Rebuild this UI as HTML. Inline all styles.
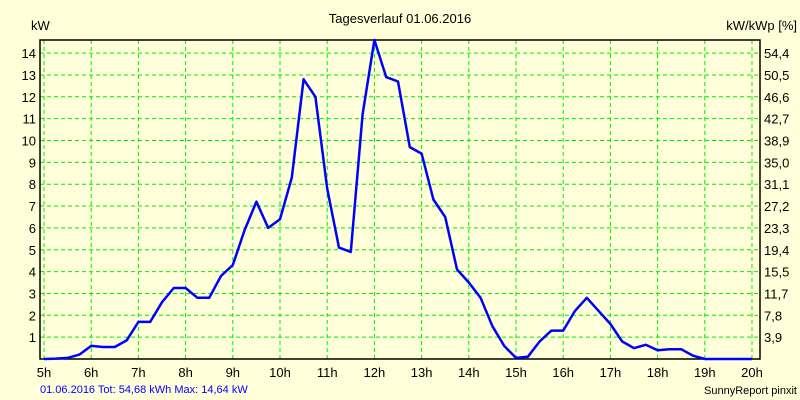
<!DOCTYPE html>
<html><head><meta charset="utf-8"><style>
body{margin:0;background:#ffffd9;}
svg{display:block;font-family:"Liberation Sans",sans-serif;}
</style></head><body>
<svg id="c" width="800" height="400">
<rect x="0" y="0" width="800" height="400" fill="#ffffd9"/>
<text x="400" y="23" text-anchor="middle" font-size="13">Tagesverlauf 01.06.2016</text>
<text x="31" y="30" font-size="13">kW</text>
<text x="797" y="30" text-anchor="end" font-size="13">kW/kWp [%]</text>
<g id="grid"></g>
<g id="labels"></g>
<rect x="40" y="40" width="720" height="319" fill="none" stroke="#000" stroke-width="1.5"/>
<path id="line" fill="none" stroke="#0000ff" stroke-width="2.5" stroke-linejoin="round"/>
<text x="40" y="393" font-size="11" fill="#0000ff">01.06.2016 Tot: 54,68 kWh Max: 14,64 kW</text>
<text x="797" y="394" text-anchor="end" font-size="11">SunnyReport pinxit</text>
</svg>
<script>
const hourLabels=["5h","6h","7h","8h","9h","10h","11h","12h","13h","14h","15h","16h","17h","18h","19h","20h"];
const leftTicks=[1,2,3,4,5,6,7,8,9,10,11,12,13,14];
const rightTicks=["3,9","7,8","11,7","15,5","19,4","23,3","27,2","31,1","35,0","38,9","42,7","46,6","50,5","54,4"];
const times=[5,5.25,5.5,5.75,6,6.25,6.5,6.75,7,7.25,7.5,7.75,8,8.25,8.5,8.75,9,9.25,9.5,9.75,10,10.25,10.5,10.75,11,11.25,11.5,11.75,12,12.25,12.5,12.75,13,13.25,13.5,13.75,14,14.25,14.5,14.75,15,15.25,15.5,15.75,16,16.25,16.5,16.75,17,17.25,17.5,17.75,18,18.25,18.5,18.75,19,19.25,19.5,19.75,20];
const power=[0,0.02,0.05,0.2,0.6,0.55,0.55,0.85,1.7,1.7,2.6,3.25,3.25,2.8,2.8,3.8,4.3,5.9,7.2,6.0,6.4,8.3,12.8,12.0,7.8,5.1,4.9,11.2,14.6,12.9,12.7,9.7,9.4,7.3,6.5,4.1,3.5,2.8,1.5,0.6,0.05,0.1,0.8,1.3,1.3,2.2,2.8,2.2,1.6,0.8,0.5,0.65,0.4,0.45,0.45,0.15,0,0,0,0,0];
const X=h=>44+(h-5)*47.2;
const Y=v=>359-v*21.85;
const ns="http://www.w3.org/2000/svg";
const grid=document.getElementById('grid'),labels=document.getElementById('labels');
function mk(tag,attrs,parent,text){const e=document.createElementNS(ns,tag);for(const k in attrs)e.setAttribute(k,attrs[k]);if(text!==undefined)e.textContent=text;parent.appendChild(e);return e;}
hourLabels.forEach((l,i)=>{const x=X(5+i);
 const g=mk('line',{x1:x,x2:x,y1:40,y2:359,stroke:'#00ee00','stroke-dasharray':'4,3'},grid);
 
 
 const t=mk('text',{x:x,y:377,'text-anchor':'middle','font-size':13},labels,l);
 
 
});
leftTicks.forEach((v,i)=>{const y=Y(v);
 const g=mk('line',{x1:40,x2:760,y1:y,y2:y,stroke:'#00ee00','stroke-dasharray':'4,3'},grid);
 
 
 const t=mk('text',{x:36,y:y+5,'text-anchor':'end','font-size':13},labels,String(v));
 
 
 const r=mk('text',{x:764,y:y+5,'font-size':13},labels,rightTicks[i]);
 
 
});
const line=document.getElementById('line');
line.setAttribute('d',times.map((t,i)=>(i?'L':'M')+X(t).toFixed(1)+','+Y(power[i]).toFixed(1)).join(''));


</script>
</body></html>
